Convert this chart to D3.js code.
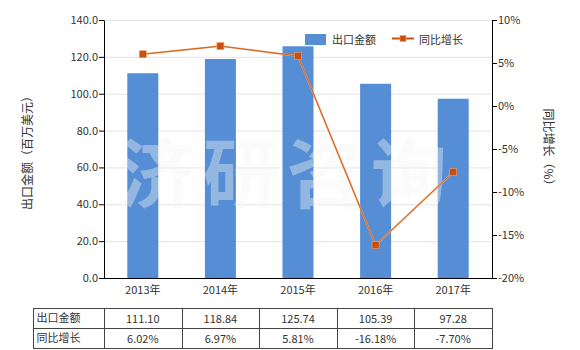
<!DOCTYPE html>
<html><head><meta charset="utf-8">
<script src="https://cdn.jsdelivr.net/npm/d3@7/dist/d3.min.js"></script>
<style>
body{margin:0;background:#fff;}
text{font-family:"Noto Sans CJK SC","Microsoft YaHei",sans-serif;}
</style></head>
<body><svg id="c" width="580" height="350"></svg>
<script>
const categories = ["2013年","2014年","2015年","2016年","2017年"];
const exportValues = [111.10, 118.84, 125.74, 105.39, 97.28];
const growthValues = [6.02, 6.97, 5.81, -16.18, -7.70];
const leftTicks = [0,20,40,60,80,100,120,140];
const rightTicks = [-20,-15,-10,-5,0,5,10];
const seriesNames = ["出口金额","同比增长"];

const svg = d3.select("#c");
const L = 104, R = 492, T = 20, B = 278;
const xb = d3.scaleBand().domain(categories).range([L,R]);
const y = d3.scaleLinear().domain([0,140]).range([B,T]);
const y2 = d3.scaleLinear().domain([-20,10]).range([B,T]);
const txt = "#333";

// gridlines
svg.append("g").selectAll("line").data(leftTicks.filter(d=>d>0)).join("line")
  .attr("x1",L).attr("x2",R).attr("y1",d=>y(d)+0.5).attr("y2",d=>y(d)+0.5)
  .attr("stroke","#e4e4e4").attr("stroke-width",1);

// bars
svg.append("g").selectAll("rect").data(exportValues).join("rect")
  .attr("x",(d,i)=>xb(categories[i])+xb.bandwidth()/2-15.5)
  .attr("width",31)
  .attr("y",d=>y(d)).attr("height",d=>B-y(d))
  .attr("fill","#558ed5");

// watermark
const wm = ["济","研","咨","询"];
svg.append("g").selectAll("text").data(wm).join("text")
  .attr("x",(d,i)=>157+i*84).attr("y",202)
  .attr("text-anchor","middle").attr("font-size",76).attr("font-weight","bold")
  .attr("fill","#f2f4f2").attr("fill-opacity",0.4).text(d=>d);

// axes
const axL = svg.append("g").attr("transform",`translate(${L},0)`)
  .call(d3.axisLeft(y).tickValues(leftTicks).tickFormat(d3.format(".1f")).tickSize(5).tickSizeOuter(0));
const axR = svg.append("g").attr("transform",`translate(${R},0)`)
  .call(d3.axisRight(y2).tickValues(rightTicks).tickFormat(d=>d+"%").tickSize(5).tickSizeOuter(0));
const axB = svg.append("g").attr("transform",`translate(0,${B})`)
  .call(d3.axisBottom(xb).tickSize(0).tickSizeOuter(0));
[axL,axR,axB].forEach(a=>{
  a.selectAll("path,line").attr("stroke","#000").attr("stroke-width",1);
  a.selectAll("text").attr("fill",txt).attr("font-size",11).attr("font-family","'Noto Sans CJK SC',sans-serif");
});
axL.selectAll("text").attr("x",-6);
axR.selectAll("text").attr("x",6);
axB.selectAll("text").attr("dy","1.2em");
axB.select("path").attr("d",`M${L-5},0.5H${R+5}`);

// line
const lineGen = d3.line().x((d,i)=>xb(categories[i])+xb.bandwidth()/2).y(d=>y2(d));
svg.append("path").datum(growthValues).attr("d",lineGen)
  .attr("fill","none").attr("stroke","#f4a56e").attr("stroke-width",1.8);
svg.append("path").datum(growthValues).attr("d",lineGen)
  .attr("fill","none").attr("stroke","#c5500f").attr("stroke-width",0.8);
svg.append("g").selectAll("rect").data(growthValues).join("rect")
  .attr("x",(d,i)=>xb(categories[i])+xb.bandwidth()/2-3.5)
  .attr("y",d=>y2(d)-3.5).attr("width",7).attr("height",7)
  .attr("fill","#c94f0e").attr("stroke","#f0a070").attr("stroke-width",0.6);

// axis titles
svg.append("text").attr("transform","translate(32,150) rotate(-90)")
  .attr("text-anchor","middle").attr("font-size",12).attr("fill",txt).text("出口金额（百万美元）");
svg.append("text").attr("transform","translate(544,150) rotate(90)")
  .attr("text-anchor","middle").attr("font-size",12).attr("fill",txt).text("同比增长（%）");

// legend
svg.append("rect").attr("x",305).attr("y",34).attr("width",21).attr("height",11).attr("fill","#558ed5");
svg.append("text").attr("x",332).attr("y",44).attr("font-size",11).attr("fill",txt).text(seriesNames[0]);
svg.append("line").attr("x1",392).attr("x2",414).attr("y1",38.5).attr("y2",38.5).attr("stroke","#c5500f").attr("stroke-width",2);
svg.append("rect").attr("x",400).attr("y",35.5).attr("width",6).attr("height",6).attr("fill","#c94f0e").attr("stroke","#f0a070").attr("stroke-width",0.6);
svg.append("text").attr("x",419).attr("y",44).attr("font-size",11).attr("fill",txt).text(seriesNames[1]);

// table
const tT = 308, tM = 328.5, tB = 348, tL = 33.5;
const tg = svg.append("g").attr("stroke","#444").attr("stroke-width",1).attr("fill","none");
tg.append("rect").attr("x",tL).attr("y",tT+0.5).attr("width",R+0.5-tL).attr("height",tB-tT);
tg.append("line").attr("x1",tL).attr("x2",R+0.5).attr("y1",tM).attr("y2",tM);
const cuts = [L].concat(categories.map(c=>xb(c)+xb.bandwidth())).slice(0,-1);
tg.selectAll("line.v").data(cuts).join("line").attr("class","v")
  .attr("x1",d=>Math.round(d)+0.5).attr("x2",d=>Math.round(d)+0.5).attr("y1",tT).attr("y2",tB);
const rows = [
  {name:seriesNames[0], vals:exportValues.map(v=>v.toFixed(2))},
  {name:seriesNames[1], vals:growthValues.map(v=>v.toFixed(2)+"%")}
];
rows.forEach((r,ri)=>{
  const cy = ri===0 ? (tT+tM)/2 : (tM+tB)/2;
  svg.append("text").attr("x",tL+3).attr("y",cy+4).attr("font-size",11).attr("fill",txt).text(r.name);
  svg.append("g").selectAll("text").data(r.vals).join("text")
    .attr("x",(d,i)=>xb(categories[i])+xb.bandwidth()/2).attr("y",cy+5)
    .attr("text-anchor","middle").attr("font-size",11).attr("fill",txt).text(d=>d);
});
</script></body></html>
